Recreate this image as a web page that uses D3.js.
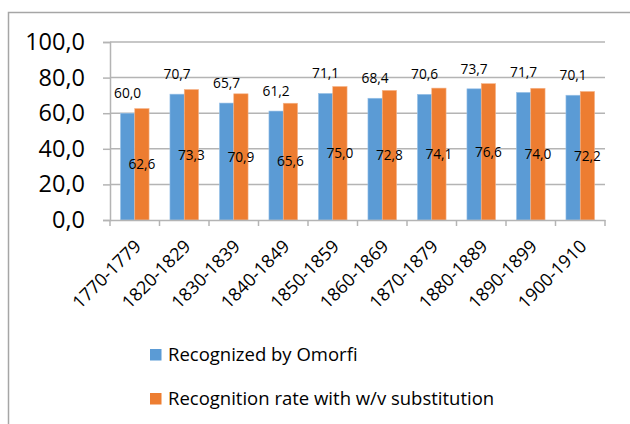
<!DOCTYPE html>
<html>
<head>
<meta charset="utf-8">
<script src="https://cdn.jsdelivr.net/npm/d3@7"></script>
<style>
  body { margin: 0; background: #fff; }
  svg { display: block; font-family: "Open Sans", "Liberation Sans", Arial, sans-serif; }
</style>
</head>
<body>
<svg width="630" height="424"></svg>
<script>
var categories = ["1770-1779", "1820-1829", "1830-1839", "1840-1849", "1850-1859",
                  "1860-1869", "1870-1879", "1880-1889", "1890-1899", "1900-1910"];
var omorfi = [60.0, 70.7, 65.7, 61.2, 71.1, 68.4, 70.6, 73.7, 71.7, 70.1];
var substitution = [62.6, 73.3, 70.9, 65.6, 75.0, 72.8, 74.1, 76.6, 74.0, 72.2];
var seriesNames = ["Recognized by Omorfi", "Recognition rate with w/v substitution"];
var yTicks = [0, 20, 40, 60, 80, 100];

var colors = ["#5b9bd5", "#ed7d31"];
var gridColor = "#b4b4b4";

var svg = d3.select("svg");

// chart frame (only left and top edges visible in the picture)
svg.append("path")
    .attr("d", "M8.5,424V12.5H630")
    .attr("fill", "none")
    .attr("stroke", "#a6a6a6")
    .attr("stroke-width", 1.5);

var margin = {left: 110, right: 605, top: 42, bottom: 220};

var x0 = d3.scaleBand()
    .domain(categories)
    .range([margin.left, margin.right]);

var x1 = d3.scaleBand()
    .domain([0, 1])
    .range([0, x0.bandwidth()])
    .paddingOuter(0.73);

var y = d3.scaleLinear()
    .domain([0, 100])
    .range([margin.bottom, margin.top]);

var fmt = function(v) { return d3.format(".1f")(v).replace(".", ","); };

// gridlines + y axis
var yAxis = svg.append("g")
    .attr("transform", "translate(" + margin.left + ",0)")
    .call(d3.axisLeft(y).tickValues(yTicks).tickSize(7).tickFormat(fmt));
yAxis.select(".domain").attr("stroke", gridColor).attr("stroke-width", 1.5);
yAxis.selectAll(".tick line").attr("stroke", gridColor).attr("stroke-width", 1.5);
yAxis.selectAll(".tick text")
    .attr("x", -25)
    .attr("font-size", 23.5)
    .attr("font-family", "Open Sans, Liberation Sans, Arial, sans-serif")
    .attr("fill", "#000");

svg.append("g")
    .selectAll("line")
    .data(yTicks.filter(function(d) { return d > 0; }))
    .enter().append("line")
    .attr("x1", margin.left)
    .attr("x2", margin.right)
    .attr("y1", function(d) { return y(d); })
    .attr("y2", function(d) { return y(d); })
    .attr("stroke", gridColor)
    .attr("stroke-width", 1.5);

// bars
var rows = categories.map(function(c, i) {
    return {cat: c, values: [omorfi[i], substitution[i]]};
});

var groups = svg.append("g")
    .selectAll("g")
    .data(rows)
    .enter().append("g")
    .attr("transform", function(d) { return "translate(" + x0(d.cat) + ",0)"; });

groups.selectAll("rect")
    .data(function(d) { return d.values.map(function(v, k) { return {k: k, v: v}; }); })
    .enter().append("rect")
    .attr("x", function(d) { return x1(d.k); })
    .attr("width", x1.bandwidth())
    .attr("y", function(d) { return y(d.v); })
    .attr("height", function(d) { return y(0) - y(d.v); })
    .attr("fill", function(d) { return colors[d.k]; })
    .attr("stroke", function(d) { return d.k === 0 ? "#9cc3e8" : "#f5b48a"; })
    .attr("stroke-width", 0.6);

// x axis
var xAxis = svg.append("g")
    .attr("transform", "translate(0," + margin.bottom + ")")
    .call(d3.axisBottom(x0).tickSize(0).tickFormat(""));
xAxis.select(".domain").attr("stroke", gridColor).attr("stroke-width", 1.5);

svg.append("g")
    .selectAll("line")
    .data(categories.concat(["_end"]))
    .enter().append("line")
    .attr("x1", function(d) { return d === "_end" ? margin.right : x0(d); })
    .attr("x2", function(d) { return d === "_end" ? margin.right : x0(d); })
    .attr("y1", margin.bottom)
    .attr("y2", margin.bottom + 6)
    .attr("stroke", gridColor)
    .attr("stroke-width", 1.5);

svg.append("g")
    .selectAll("text")
    .data(categories)
    .enter().append("text")
    .attr("transform", function(d) {
        return "translate(" + (x0(d) + x0.bandwidth() / 2 + 3) + "," + (margin.bottom + 23) + ") rotate(-45)";
    })
    .attr("text-anchor", "end")
    .attr("dy", "0.35em")
    .attr("font-size", 18)
    .text(function(d) { return d; });

// data labels: first series above bar, second series centred in bar
groups.append("text")
    .attr("x", function(d) { return x1(0) + x1.bandwidth() / 2; })
    .attr("y", function(d) { return y(d.values[0]) - 15; })
    .attr("text-anchor", "middle")
    .attr("font-size", 13.7)
    .text(function(d) { return fmt(d.values[0]); });

groups.append("text")
    .attr("x", function(d) { return x1(1) + x1.bandwidth() / 2; })
    .attr("y", function(d) { return y(d.values[1] / 2); })
    .attr("dy", "0.35em")
    .attr("text-anchor", "middle")
    .attr("font-size", 13.7)
    .text(function(d) { return fmt(d.values[1]); });

// legend
var legend = svg.append("g")
    .selectAll("g")
    .data(seriesNames)
    .enter().append("g")
    .attr("transform", function(d, i) { return "translate(150," + (349 + i * 44) + ")"; });

legend.append("rect")
    .attr("width", 11.5)
    .attr("height", 11.5)
    .attr("fill", function(d, i) { return colors[i]; });

legend.append("text")
    .attr("x", 18)
    .attr("y", 6)
    .attr("dy", "0.35em")
    .attr("font-size", 18.5)
    .text(function(d) { return d; });
</script>
</body>
</html>
